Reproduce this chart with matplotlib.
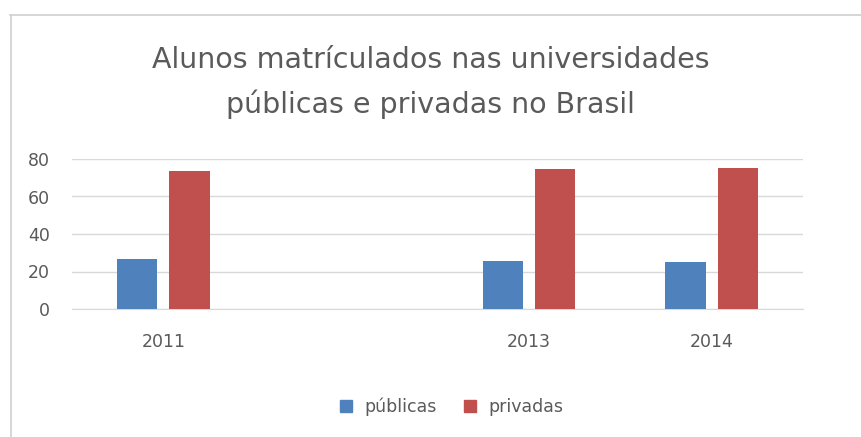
import matplotlib.pyplot as plt
import numpy as np
from matplotlib.lines import Line2D

# Data
years = [2011, 2013, 2014]
publicas = [26.7, 25.8, 24.9]
privadas = [73.4, 74.6, 75.3]
yticks = [0, 20, 40, 60, 80]

# Style
plt.rcParams['font.family'] = ['DejaVu Sans']
c_pub = '#4F81BD'
c_priv = '#C0504D'
c_text = '#5A5A5A'
c_grid = '#D9D9D9'

fig = plt.figure(figsize=(8.61, 4.37), dpi=100)
ax = fig.add_axes([72 / 861, 1 - 309 / 437, 731 / 861, 150 / 437])

x = np.array(years, dtype=float)
width = 0.22
off = 0.143
ax.bar(x - off, publicas, width, color=c_pub, label='públicas', zorder=3)
ax.bar(x + off, privadas, width, color=c_priv, label='privadas', zorder=3)

ax.set_xlim(2010.5, 2014.5)
ax.set_ylim(0, 80)
ax.set_yticks(yticks)
ax.set_xticks(years)
ax.set_xticklabels([str(y) for y in years])
ax.grid(axis='y', color=c_grid, linewidth=1, zorder=0)
for s in ['top', 'right', 'left']:
    ax.spines[s].set_visible(False)
ax.spines['bottom'].set_color(c_grid)
ax.tick_params(axis='both', length=0, labelsize=12.5, labelcolor=c_text)
ax.tick_params(axis='x', pad=17)
ax.tick_params(axis='y', pad=16)

# Title
fig.text(0.5, 1 - 60 / 437, 'Alunos matrículados nas universidades',
         ha='center', va='center', fontsize=20.5, color=c_text)
fig.text(0.5, 1 - 104 / 437, 'públicas e privadas no Brasil',
         ha='center', va='center', fontsize=20.5, color=c_text)

# Legend
handles = [Line2D([], [], marker='s', linestyle='none', markersize=8, color=c_pub),
           Line2D([], [], marker='s', linestyle='none', markersize=8, color=c_priv)]
fig.legend(handles, ['públicas', 'privadas'], loc='center',
           bbox_to_anchor=(446 / 861, 1 - 407 / 437), ncol=2, frameon=False,
           fontsize=12.5, labelcolor=c_text, handletextpad=0.05, columnspacing=0.9)

# Chart border
fig.add_artist(Line2D([10 / 861, 1], [1 - 14.5 / 437] * 2, color='#D0D0D0', linewidth=1.2))
fig.add_artist(Line2D([10.5 / 861] * 2, [0, 1 - 14.5 / 437], color='#D0D0D0', linewidth=1.2))

fig.savefig('out.png', dpi=100)
